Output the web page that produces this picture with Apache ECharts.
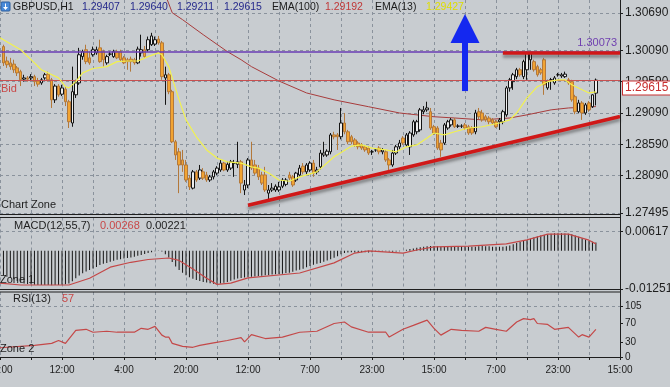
<!DOCTYPE html>
<html><head><meta charset="utf-8">
<script src="https://cdn.jsdelivr.net/npm/echarts@6/dist/echarts.min.js"></script>
<style>html,body{margin:0;padding:0;background:#c8ccd0}#c{width:670px;height:387px}</style>
</head><body><div id="c"></div>
<script>
// ---- tick labels ----
const timeLabels = ['20:00','12:00','4:00','20:00','12:00','7:00','23:00','15:00','7:00','23:00','15:00'];
const priceTicks = [1.30690,1.30090,1.29590,1.29090,1.28590,1.28090,1.27495];
const macdTicks = [0.00617,-0.01251];
const rsiTicks = [0,30,70,105];

// ---- candles: [open, close, low, high], one per hour slot starting at slot 1 ----
const candles = [
[1.3015,1.2989,1.2984,1.3018],[1.2992,1.2986,1.2981,1.2999],[1.2989,1.2983,1.2978,1.2997],[1.2987,1.2978,1.2973,1.2994],
[1.2981,1.2973,1.2968,1.2984],[1.2975,1.2962,1.2952,1.2978],[1.2963,1.2965,1.2959,1.2970],[1.2965,1.2963,1.2959,1.2968],
[1.2965,1.2967,1.2960,1.2971],[1.2967,1.2959,1.2952,1.2970],[1.2960,1.2955,1.2951,1.2965],[1.2957,1.2962,1.2954,1.2965],
[1.2965,1.2970,1.2962,1.2973],[1.2971,1.2962,1.2959,1.2975],[1.2962,1.2930,1.2917,1.2965],[1.2930,1.2952,1.2925,1.2955],
[1.2952,1.2938,1.2935,1.2955],[1.2939,1.2949,1.2936,1.2954],[1.2947,1.2927,1.2920,1.2951],[1.2927,1.2895,1.2885,1.2930],
[1.2893,1.2943,1.2887,1.2983],[1.2938,1.2957,1.2933,1.2962],[1.2957,1.3002,1.2954,1.3013],[1.2999,1.3007,1.2994,1.3010],
[1.3010,1.2991,1.2987,1.3018],[1.2997,1.2989,1.2986,1.3007],[1.3002,1.3010,1.2999,1.3015],[1.3005,1.3010,1.3002,1.3015],
[1.3013,1.2991,1.2989,1.3026],[1.3007,1.2994,1.2983,1.3010],[1.2989,1.2999,1.2986,1.3002],[1.3003,1.3003,1.3000,1.3007],
[1.2999,1.3007,1.2997,1.3010],[1.3007,1.2997,1.2995,1.3010],[1.3007,1.2994,1.2991,1.3010],[1.2997,1.2989,1.2987,1.3000],
[1.2994,1.2991,1.2978,1.2997],[1.2995,1.2991,1.2975,1.2999],[1.2994,1.2989,1.2986,1.2997],[1.2989,1.3011,1.2987,1.3015],
[1.3005,1.3010,1.2999,1.3034],[1.3010,1.2999,1.2997,1.3016],[1.3010,1.3026,1.3007,1.3031],[1.3018,1.3032,1.3016,1.3037],
[1.3019,1.3026,1.3016,1.3031],[1.3027,1.3021,1.3018,1.3032],[1.3021,1.2967,1.2962,1.3024],[1.2965,1.2970,1.2922,1.2983],
[1.2970,1.2943,1.2939,1.2973],[1.2943,1.2863,1.2861,1.2946],[1.2863,1.2842,1.2834,1.2866],[1.2847,1.2826,1.2781,1.2853],
[1.2834,1.2826,1.2815,1.2850],[1.2826,1.2802,1.2799,1.2834],[1.2805,1.2791,1.2786,1.2810],[1.2789,1.2815,1.2787,1.2818],
[1.2815,1.2802,1.2799,1.2818],[1.2805,1.2818,1.2802,1.2826],[1.2815,1.2805,1.2802,1.2821],[1.2810,1.2802,1.2799,1.2815],
[1.2802,1.2807,1.2799,1.2810],[1.2807,1.2815,1.2803,1.2818],[1.2813,1.2821,1.2810,1.2824],[1.2818,1.2829,1.2815,1.2834],
[1.2829,1.2818,1.2816,1.2831],[1.2818,1.2827,1.2815,1.2831],[1.2821,1.2831,1.2818,1.2834],[1.2829,1.2829,1.2807,1.2834],
[1.2827,1.2831,1.2821,1.2863],[1.2831,1.2797,1.2781,1.2834],[1.2786,1.2794,1.2778,1.2802],[1.2794,1.2834,1.2789,1.2837],
[1.2834,1.2821,1.2818,1.2863],[1.2826,1.2813,1.2810,1.2834],[1.2821,1.2807,1.2802,1.2826],[1.2810,1.2797,1.2794,1.2815],
[1.2810,1.2786,1.2783,1.2823],[1.2781,1.2786,1.2770,1.2794],[1.2786,1.2789,1.2783,1.2797],[1.2786,1.2792,1.2783,1.2795],
[1.2786,1.2791,1.2783,1.2799],[1.2792,1.2802,1.2789,1.2805],[1.2795,1.2802,1.2792,1.2805],[1.2810,1.2805,1.2802,1.2815],
[1.2807,1.2794,1.2791,1.2810],[1.2802,1.2813,1.2799,1.2815],[1.2810,1.2821,1.2807,1.2826],[1.2824,1.2815,1.2811,1.2829],
[1.2815,1.2826,1.2811,1.2829],[1.2818,1.2829,1.2815,1.2832],[1.2829,1.2813,1.2807,1.2834],[1.2815,1.2818,1.2811,1.2823],
[1.2823,1.2845,1.2819,1.2850],[1.2842,1.2845,1.2839,1.2863],[1.2842,1.2848,1.2839,1.2851],[1.2847,1.2874,1.2843,1.2877],
[1.2874,1.2871,1.2867,1.2879],[1.2874,1.2871,1.2850,1.2877],[1.2871,1.2893,1.2867,1.2917],[1.2893,1.2879,1.2875,1.2909],
[1.2879,1.2863,1.2859,1.2882],[1.2871,1.2863,1.2859,1.2874],[1.2866,1.2858,1.2855,1.2869],[1.2861,1.2855,1.2851,1.2864],
[1.2858,1.2853,1.2850,1.2861],[1.2855,1.2850,1.2847,1.2858],[1.2853,1.2845,1.2842,1.2856],[1.2847,1.2847,1.2842,1.2850],
[1.2850,1.2850,1.2847,1.2853],[1.2853,1.2847,1.2843,1.2856],[1.2847,1.2850,1.2843,1.2853],[1.2847,1.2834,1.2831,1.2850],
[1.2834,1.2826,1.2818,1.2837],[1.2826,1.2845,1.2823,1.2850],[1.2845,1.2855,1.2842,1.2858],[1.2855,1.2861,1.2851,1.2866],
[1.2869,1.2861,1.2858,1.2872],[1.2858,1.2874,1.2855,1.2877],[1.2855,1.2877,1.2842,1.2880],[1.2874,1.2895,1.2871,1.2898],
[1.2879,1.2895,1.2875,1.2898],[1.2882,1.2914,1.2879,1.2917],[1.2911,1.2914,1.2907,1.2920],[1.2914,1.2917,1.2911,1.2927],
[1.2911,1.2885,1.2882,1.2917],[1.2887,1.2877,1.2874,1.2890],[1.2885,1.2853,1.2850,1.2888],[1.2861,1.2850,1.2839,1.2866],
[1.2861,1.2890,1.2858,1.2893],[1.2885,1.2895,1.2882,1.2898],[1.2890,1.2898,1.2887,1.2901],[1.2898,1.2887,1.2885,1.2901],
[1.2888,1.2888,1.2885,1.2891],[1.2888,1.2888,1.2885,1.2891],[1.2890,1.2885,1.2882,1.2893],[1.2887,1.2877,1.2874,1.2890],
[1.2885,1.2877,1.2874,1.2888],[1.2879,1.2909,1.2875,1.2914],[1.2911,1.2903,1.2899,1.2917],[1.2909,1.2898,1.2895,1.2914],
[1.2903,1.2898,1.2895,1.2906],[1.2901,1.2895,1.2891,1.2904],[1.2898,1.2893,1.2890,1.2901],[1.2895,1.2887,1.2885,1.2898],
[1.2895,1.2898,1.2882,1.2901],[1.2895,1.2911,1.2891,1.2914],[1.2906,1.2949,1.2903,1.2952],[1.2949,1.2962,1.2943,1.2965],
[1.2959,1.2970,1.2946,1.2973],[1.2967,1.2978,1.2963,1.2981],[1.2978,1.2970,1.2967,1.2981],[1.2967,1.2991,1.2963,1.2994],
[1.2978,1.3005,1.2962,1.3007],[1.2994,1.3005,1.2978,1.3007],[1.2991,1.2978,1.2975,1.2994],[1.2983,1.2970,1.2967,1.2986],
[1.2978,1.2973,1.2970,1.2981],[1.2994,1.2954,1.2938,1.2997],[1.2949,1.2959,1.2946,1.2962],[1.2962,1.2962,1.2946,1.2965],
[1.2957,1.2965,1.2954,1.2968],[1.2970,1.2970,1.2967,1.2973],[1.2968,1.2970,1.2965,1.2973],[1.2967,1.2971,1.2965,1.2975],
[1.2962,1.2957,1.2954,1.2965],[1.2959,1.2930,1.2927,1.2962],[1.2935,1.2911,1.2907,1.2938],[1.2911,1.2925,1.2909,1.2930],
[1.2925,1.2909,1.2898,1.2928],[1.2909,1.2922,1.2906,1.2925],[1.2925,1.2914,1.2911,1.2928],[1.2919,1.2938,1.2917,1.2939],
[1.29407,1.29615,1.29211,1.29640]
];

// ---- MACD(12,55,7) main values (histogram), one per candle ----
const macdHist = [
-0.0081,-0.0085,-0.0089,-0.0093,-0.0099,-0.0104,-0.0107,-0.0109,-0.0110,-0.0111,-0.0112,-0.0112,-0.0112,-0.0112,-0.0113,-0.0112,
-0.0112,-0.0111,-0.0110,-0.0107,-0.0100,-0.0090,-0.0081,-0.0074,-0.0068,-0.0063,-0.0058,-0.0053,-0.0047,-0.0043,-0.0040,-0.0036,
-0.0033,-0.0030,-0.0028,-0.0026,-0.0024,-0.0022,-0.0020,-0.0017,-0.0014,-0.0011,-0.0008,-0.0005,-0.0002,-0.0001,-0.0003,-0.0012,
-0.0022,-0.0037,-0.0052,-0.0063,-0.0072,-0.0080,-0.0087,-0.0092,-0.0096,-0.0099,-0.0102,-0.0104,-0.0106,-0.0108,-0.0108,-0.0107,
-0.0105,-0.0102,-0.0098,-0.0094,-0.0091,-0.0089,-0.0088,-0.0086,-0.0085,-0.0084,-0.0083,-0.0082,-0.0080,-0.0080,-0.0078,-0.0077,
-0.0076,-0.0075,-0.0073,-0.0072,-0.0069,-0.0065,-0.0062,-0.0059,-0.0054,-0.0050,-0.0046,-0.0043,-0.0040,-0.0036,-0.0032,-0.0028,
-0.0023,-0.0018,-0.0012,-0.0008,-0.0006,-0.0005,-0.0006,-0.0006,-0.0005,-0.0005,-0.0006,-0.0005,-0.0004,-0.0004,-0.0003,-0.0002,
-0.0003,-0.0004,-0.0003,-0.0002,0.0000,0.0003,0.0005,0.0007,0.0009,0.0011,0.0013,0.0014,0.0015,0.0015,0.0014,0.0013,
0.0013,0.0014,0.0014,0.0014,0.0014,0.0014,0.0014,0.0013,0.0013,0.0013,0.0014,0.0015,0.0014,0.0014,0.0013,0.0013,
0.0013,0.0013,0.0014,0.0017,0.0021,0.0025,0.0028,0.0031,0.0035,0.0039,0.0043,0.0046,0.0049,0.0051,0.0053,0.0055,
0.0057,0.0057,0.0057,0.0056,0.0055,0.0053,0.0049,0.0045,0.0040,0.0036,0.0032,0.0029,0.00268
];
// MACD signal line: [slot, value]
const macdSignal = [[0,-0.0106],[6,-0.0112],[20,-0.0112],[26,-0.0090],[32,-0.0054],[38,-0.0038],[43,-0.0029],[49,-0.0024],
[52,-0.0032],[56,-0.0060],[60,-0.0090],[63,-0.0110],[67,-0.0106],[72,-0.0089],[87,-0.0073],[97,-0.0040],[103,-0.0008],
[107,-0.0001],[117,-0.0008],[121,0.0002],[126,0.0012],[136,0.0015],[147,0.0022],[153,0.0035],[159,0.0054],[165,0.0054],
[171,0.0034],[173,0.00221]];

// EMA(13) and EMA(100): [slot, price]
const ema13 = [[0,1.3029],[6,1.3010],[10,1.2989],[12,1.2978],[17,1.2965],[19,1.2951],[20,1.2949],[22,1.2959],[24,1.2973],
[27,1.2980],[31,1.2983],[34,1.2991],[37,1.2992],[40,1.2992],[43,1.2999],[46,1.3005],[47,1.3002],[49,1.2983],[50,1.2965],
[52,1.2930],[54,1.2898],[57,1.2871],[60,1.2850],[63,1.2837],[66,1.2831],[70,1.2829],[73,1.2823],[75,1.2821],[78,1.2813],
[81,1.2802],[84,1.2800],[87,1.2807],[92,1.2815],[97,1.2839],[102,1.2856],[105,1.2858],[108,1.2853],[112,1.2850],[115,1.2847],
[118,1.2855],[121,1.2858],[124,1.2869],[126,1.2877],[129,1.2874],[132,1.2879],[136,1.2885],[140,1.2887],[145,1.2893],
[148,1.2898],[150,1.2909],[153,1.2933],[156,1.2951],[159,1.2959],[162,1.2962],[164,1.2962],[166,1.2954],[169,1.2946],
[171,1.2941],[173,1.29427]];
const ema100 = [[46,1.3110],[48,1.3098],[50,1.3069],[53,1.3058],[59,1.3034],[66,1.3007],[70,1.2994],[73,1.2983],[81,1.2960],
[89,1.2941],[97,1.2930],[107,1.2919],[116,1.2909],[126,1.2903],[132,1.2901],[140,1.2898],[148,1.2901],[153,1.2906],
[160,1.2914],[165,1.2917],[173,1.29192]];

// RSI(13): [slot, value]
const rsi = [[0,19],[10,24],[15,28],[17,34],[19,28],[22,55],[25,57],[27,51],[31,53],[34,51],[39,51],[41,59],[43,57],[45,63],
[47,45],[48,41],[49,41],[50,28],[53,22],[56,20],[58,24],[62,29],[66,34],[70,40],[71,31],[73,46],[77,38],[82,41],[87,51],
[92,53],[97,69],[100,72],[102,62],[107,51],[112,51],[113,41],[117,57],[120,65],[124,76],[126,59],[128,45],[131,57],[134,55],
[139,53],[141,61],[144,57],[147,53],[150,72],[152,79],[154,77],[155,79],[156,69],[159,67],[161,57],[165,61],[168,41],
[169,46],[171,41],[173,57]];

// annotation levels
const bidPrice = 1.29615;
const levelPrice = 1.30073;
const resistanceLine = [[146,1.30048],[180,1.30048]];
const trendLine = [[72,1.27617],[180,1.29034]];
const arrowFrom = [135,1.29440], arrowTo = [135,1.30440];

const FF = '"Liberation Sans", Arial, sans-serif';
const slots = Array.from({length:181},(_,i)=>String(i));
const gridDash = {color:'#8a929c', type:[3,3], width:1};

function xAx(gi){
  const bottom = gi===2;
  return {type:'category', gridIndex:gi, data:slots, boundaryGap:false,
    axisLine:{show:bottom, lineStyle:{color:'#1e1e1e'}},
    axisTick:{show:bottom, interval:8, length:3, lineStyle:{color:'#1e1e1e'}},
    axisLabel:{show:bottom, interval:17, formatter:(v,i)=> (i%18===0 ? timeLabels[i/18] : ''), color:'#1e1e1e', fontSize:10, fontFamily:FF, margin:8,
      alignMinLabel:'center', alignMaxLabel:'center', hideOverlap:false},
    splitLine:{show:true, interval:8, lineStyle:gridDash}};
}
function yAx(gi,min,max,ticks,fmt,fs,split){
  return {type:'value', gridIndex:gi, position:'right', min:min, max:max,
    axisLine:{show:true, lineStyle:{color:'#1e1e1e'}},
    axisTick:{show:true, customValues:ticks, length:3, lineStyle:{color:'#1e1e1e'}},
    axisLabel:{customValues:ticks, formatter:fmt, color:'#1e1e1e', fontSize:fs, fontFamily:FF, margin:5},
    splitLine:{show:split, lineStyle:gridDash}};
}

const chart = echarts.init(document.getElementById('c'), null, {renderer:'canvas'});
const txt = (t,x,y,fill,fs)=>({type:'text', x:x, y:y, silent:true, z:50, style:{text:t, fill:fill, font:(fs||11)+'px '+FF, verticalAlign:'middle'}});
const hline = (y)=>({type:'line', silent:true, z:40, shape:{x1:0,y1:y,x2:620,y2:y}, style:{stroke:'#1e1e1e', lineWidth:1}});

chart.setOption({
  animation:false,
  backgroundColor:'#c8ccd0',
  grid:[
    {left:0, right:50, top:0, height:214.5, outerBoundsMode:'none'},
    {left:0, right:50, top:217.5, height:71.5, outerBoundsMode:'none'},
    {left:0, right:50, top:292, height:65, outerBoundsMode:'none'}
  ],
  xAxis:[xAx(0),xAx(1),xAx(2)],
  yAxis:[
    yAx(0,1.27469,1.30894,priceTicks,v=>v.toFixed(5),12,true),
    yAx(1,-0.01251,0.0108,macdTicks,v=>v.toFixed(5),12,true),
    yAx(2,0,133.8,rsiTicks,v=>String(v),10,false)
  ],
  series:[
    {type:'line', name:'EMA100', xAxisIndex:0, yAxisIndex:0, data:ema100, showSymbol:false, silent:true, z:3,
      lineStyle:{color:'#a83c3c', width:1},
      markLine:{silent:true, symbol:['none','none'], animation:false, precision:6,
        data:[
          {yAxis:levelPrice, lineStyle:{color:'#6a3cb4', width:1.5, type:'solid'},
            label:{show:true, position:'insideEndTop', formatter:'1.30073', color:'#6f3fb0', fontSize:11, fontFamily:FF, distance:3}},
          {yAxis:bidPrice, lineStyle:{color:'#c85050', width:1, type:'solid'},
            label:{show:true, position:'end', formatter:'1.29615', color:'#c83030', fontSize:12, fontFamily:FF,
              backgroundColor:'#ffffff', borderColor:'#c83030', borderWidth:1, padding:[1,2,0,2], distance:3, offset:[0,8]}}
        ]}},
    {type:'candlestick', xAxisIndex:0, yAxisIndex:0, z:4, silent:true, barWidth:3,
      encode:{x:0, y:[1,2,3,4]},
      data:candles.map((r,k)=>[k+1, r[0], r[1], r[2], r[3]]),
      itemStyle:{color:'#eeeeee', color0:'#f2a432', borderColor:'#141414', borderColor0:'#b3783a', borderColorDoji:'#141414', borderWidth:1}},
    {type:'line', name:'EMA13', xAxisIndex:0, yAxisIndex:0, data:ema13, showSymbol:false, silent:true, z:5,
      lineStyle:{color:'#f2f24e', width:1.2}},
    {type:'line', name:'trend', xAxisIndex:0, yAxisIndex:0, data:trendLine, showSymbol:false, silent:true, z:6, clip:false,
      lineStyle:{color:'#d01818', width:3.5, shadowColor:'rgba(40,40,40,0.45)', shadowBlur:3, shadowOffsetY:3}},
    {type:'line', name:'resistance', xAxisIndex:0, yAxisIndex:0, data:resistanceLine, showSymbol:false, silent:true, z:6, clip:false,
      lineStyle:{color:'#d01818', width:3.5, shadowColor:'rgba(40,40,40,0.45)', shadowBlur:3, shadowOffsetY:3},
      markLine:{silent:true, animation:false, precision:6, symbol:['none','triangle'], symbolSize:29,
        lineStyle:{color:'#1428f0', width:6, type:'solid'}, label:{show:false},
        data:[[{coord:arrowFrom},{coord:arrowTo}]]}},
    {type:'bar', name:'MACD', xAxisIndex:1, yAxisIndex:1, barWidth:1, silent:true,
      data:macdHist.map((v,k)=>[k+1, v]), itemStyle:{color:'#141414'}},
    {type:'line', name:'Signal', xAxisIndex:1, yAxisIndex:1, data:macdSignal, showSymbol:false, silent:true, z:5,
      lineStyle:{color:'#c44848', width:1.2}},
    {type:'line', name:'RSI', xAxisIndex:2, yAxisIndex:2, data:rsi, showSymbol:false, silent:true,
      lineStyle:{color:'#c44848', width:1.2},
      markLine:{silent:true, symbol:['none','none'], label:{show:false}, lineStyle:gridDash, data:[{yAxis:105}]}}
  ],
  graphic:[
    {type:'rect', silent:true, z:50, shape:{x:1,y:2,width:9,height:9,r:1}, style:{fill:'#4a8ad8', stroke:'#2d5f9e'}},
    {type:'polygon', silent:true, z:51, shape:{points:[[5,3.5],[6,3.5],[6,7],[8,7],[5.5,10],[3,7],[5,7]]}, style:{fill:'#ffffff'}},
    txt('GBPUSD,H1',13,7.5,'#1c1c1c',10.5),
    txt('1.29407',82,7.5,'#262a8c',10.5),
    txt('1.29640',130,7.5,'#262a8c',10.5),
    txt('1.29211',177,7.5,'#262a8c',10.5),
    txt('1.29615',224,7.5,'#262a8c',10.5),
    txt('EMA(100)',272,7.5,'#1c1c1c',10.5),
    txt('1.29192',325,7.5,'#c03838',10.5),
    txt('EMA(13)',375,7.5,'#1c1c1c',10.5),
    txt('1.29427',426,7.5,'#dede00',10.5),
    txt('Bid',1,89,'#c84848',11),
    txt('Chart Zone',1,205,'#1e1e1e',11),
    txt('MACD(12,55,7)',14,226,'#1e1e1e',11),
    txt('0.00268',100,226,'#c84848',11),
    txt('0.00221',146,226,'#1e1e1e',11),
    txt('Zone 1',0,280,'#1e1e1e',11),
    txt('RSI(13)',13,299,'#1e1e1e',11),
    txt('57',62,299,'#c84848',11),
    txt('Zone 2',0,349,'#1e1e1e',11),
    hline(214.5), hline(217.5), hline(289.5), hline(292),
    {type:'line', silent:true, z:40, shape:{x1:620.5,y1:0,x2:620.5,y2:357}, style:{stroke:'#1e1e1e', lineWidth:1}}
  ]
});
</script></body></html>
